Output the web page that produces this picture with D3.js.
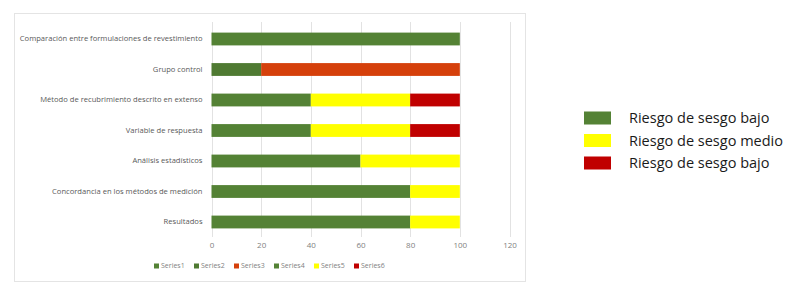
<!DOCTYPE html>
<html>
<head>
<meta charset="utf-8">
<script src="https://cdn.jsdelivr.net/npm/d3@7"></script>
<style>
  body { margin: 0; background: #fff; }
  svg { display: block; }
  text { font-family: "Open Sans", "Noto Sans", sans-serif; }
</style>
</head>
<body>
<div id="chart"></div>
<script>
    var categories = [
        "Comparación entre formulaciones de revestimiento",
        "Grupo control",
        "Método de recubrimiento descrito en extenso",
        "Variable de respuesta",
        "Análisis estadísticos",
        "Concordancia en los métodos de medición",
        "Resultados"
    ];
    var seriesNames = ["Series1", "Series2", "Series3", "Series4", "Series5", "Series6"];
    var series1 = [100, 0, 0, 0, 0, 0, 0];
    var series2 = [0, 20, 0, 0, 0, 0, 0];
    var series3 = [0, 80, 0, 0, 0, 0, 0];
    var series4 = [0, 0, 40, 40, 60, 80, 80];
    var series5 = [0, 0, 40, 40, 40, 20, 20];
    var series6 = [0, 0, 20, 20, 0, 0, 0];
    var seriesColors = ["#548235", "#4f7a32", "#d5400b", "#548235", "#ffff00", "#c00000"];
    var xTicks = [0, 20, 40, 60, 80, 100, 120];
    var riskLabels = ["Riesgo de sesgo bajo", "Riesgo de sesgo medio", "Riesgo de sesgo bajo"];
    var riskColors = ["#548235", "#ffff00", "#c00000"];

    var allSeries = [series1, series2, series3, series4, series5, series6];
    var rows = categories.map(function(c, i) {
        var row = { cat: c };
        seriesNames.forEach(function(s, j) { row[s] = allSeries[j][i]; });
        return row;
    });

    var svg = d3.select("#chart").append("svg")
        .attr("width", 800)
        .attr("height", 288);

    // chart frame
    svg.append("rect")
        .attr("x", 14.5).attr("y", 13.5)
        .attr("width", 511).attr("height", 268)
        .attr("fill", "#fff")
        .attr("stroke", "#e4e4e4");

    var xScale = d3.scaleLinear().domain([0, 120]).range([211.5, 509.5]);
    var yScale = d3.scaleBand().domain(categories).range([23.75, 237.25]).paddingInner(0.58).paddingOuter(0.29);

    // gridlines
    svg.append("g").selectAll("line")
        .data(xTicks).enter().append("line")
        .attr("x1", function(d) { return Math.round(xScale(d)) + 0.5; })
        .attr("x2", function(d) { return Math.round(xScale(d)) + 0.5; })
        .attr("y1", 22)
        .attr("y2", 237)
        .attr("stroke", "#e2e2e2");

    // tick labels
    var xAxis = d3.axisBottom(xScale).tickValues(xTicks).tickSize(0).tickPadding(5);
    var gx = svg.append("g")
        .attr("transform", "translate(0,237)")
        .call(xAxis);
    gx.select(".domain").remove();
    gx.selectAll("text")
        .attr("fill", "#7f7f7f")
        .style("font-size", "8px")
        .style("font-family", "'Open Sans', sans-serif");

    // category labels
    var yAxis = d3.axisLeft(yScale).tickSize(0).tickPadding(9);
    var gy = svg.append("g")
        .attr("transform", "translate(211.5,0)")
        .call(yAxis);
    gy.select(".domain").remove();
    gy.selectAll("text")
        .attr("fill", "#595959")
        .style("font-size", "7.6px")
        .style("font-family", "'Open Sans', sans-serif");

    // stacked bars
    var stack = d3.stack().keys(seriesNames);
    var stacked = stack(rows);
    svg.append("g").selectAll("g")
        .data(stacked).enter().append("g")
        .attr("fill", function(d, i) { return seriesColors[i]; })
        .selectAll("rect")
        .data(function(d) { return d; })
        .enter().append("rect")
        .attr("x", function(d) { return xScale(d[0]); })
        .attr("width", function(d) { return xScale(d[1]) - xScale(d[0]); })
        .attr("y", function(d) { return yScale(d.data.cat); })
        .attr("height", yScale.bandwidth());

    // bottom legend
    var legend = svg.append("g").selectAll("g")
        .data(seriesNames).enter().append("g")
        .attr("transform", function(d, i) { return "translate(" + (154 + i * 40) + ",266)"; });
    legend.append("rect")
        .attr("x", 0).attr("y", -2.5)
        .attr("width", 5).attr("height", 5)
        .attr("fill", function(d, i) { return seriesColors[i]; });
    legend.append("text")
        .attr("x", 7).attr("y", 0)
        .attr("dy", "0.35em")
        .attr("fill", "#7f7f7f")
        .style("font-size", "7px")
        .text(function(d) { return d; });

    // risk legend on the right
    var risk = svg.append("g").selectAll("g")
        .data(riskLabels).enter().append("g")
        .attr("transform", function(d, i) { return "translate(584," + (118 + i * 22.5) + ")"; });
    risk.append("rect")
        .attr("x", 0).attr("y", -6.5)
        .attr("width", 27).attr("height", 13)
        .attr("fill", function(d, i) { return riskColors[i]; });
    risk.append("text")
        .attr("x", 45).attr("y", 0)
        .attr("dy", "0.35em")
        .attr("fill", "#1a1a1a")
        .style("font-size", "14.5px")
        .style("font-family", "'Open Sans', sans-serif")
        .text(function(d) { return d; });
</script>
</body>
</html>
